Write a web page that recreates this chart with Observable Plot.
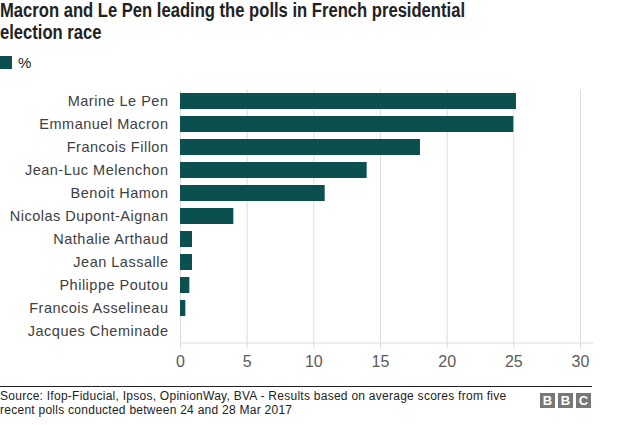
<!DOCTYPE html>
<html>
<head>
<meta charset="utf-8">
<script src="https://cdn.jsdelivr.net/npm/d3@7"></script>
<script src="https://cdn.jsdelivr.net/npm/@observablehq/plot@0.6"></script>
<style>
  html, body { margin: 0; padding: 0; background: #fff; }
  body { width: 624px; height: 425px; position: relative; overflow: hidden; font-family: "Liberation Sans", Arial, sans-serif; }
  #title { position: absolute; left: 0; top: 0; font-weight: bold; font-size: 20px; line-height: 21.5px; color: #222; transform-origin: 0 0; white-space: nowrap; }
  #title span { display: block; }
  #legend { position: absolute; left: 0; top: 56px; height: 13px; font-size: 15px; color: #222; }
  #legend .sw { position: absolute; left: 0; top: 0; width: 12px; height: 13px; background: #0b4f4e; }
  #legend .lb { position: absolute; left: 18px; top: -2px; line-height: 17px; }
  #chart { position: absolute; left: 0; top: 80px; }
  #chart g[aria-label="y-axis tick label"] text { letter-spacing: 0.5px; }
  #rule { position: absolute; left: 0; top: 386px; width: 592px; height: 0; border-top: 1px solid #222; }
  #source { position: absolute; left: 0; top: 390px; font-size: 12px; line-height: 13.5px; color: #222; letter-spacing: 0.26px; }
  #bbc { position: absolute; left: 540px; top: 393px; }
  #bbc div { position: absolute; top: 0; width: 15px; height: 15px; background: #777; color: #fff; font-weight: bold; font-size: 13px; line-height: 15px; text-align: center; }
</style>
</head>
<body>
<div id="title"><span id="t1">Macron and Le Pen leading the polls in French presidential</span><span>election race</span></div>
<div id="legend"><div class="sw"></div><div class="lb">%</div></div>
<div id="chart"></div>
<div id="rule"></div>
<div id="source">Source: Ifop-Fiducial, Ipsos, OpinionWay, BVA - Results based on average scores from five<br>recent polls conducted between 24 and 28 Mar 2017</div>
<div id="bbc"><div style="left:0">B</div><div style="left:18px">B</div><div style="left:36px">C</div></div>
<script>
const candidates = ["Marine Le Pen", "Emmanuel Macron", "Francois Fillon", "Jean-Luc Melenchon", "Benoit Hamon", "Nicolas Dupont-Aignan", "Nathalie Arthaud", "Jean Lassalle", "Philippe Poutou", "Francois Asselineau", "Jacques Cheminade"];
const percent = [25.2, 25.0, 18.0, 14.0, 10.85, 4.0, 0.9, 0.9, 0.7, 0.4, 0];
const xTicks = [0, 5, 10, 15, 20, 25, 30];

const data = candidates.map((name, i) => ({name, value: percent[i]}));

// fit the condensed title
const t1 = document.getElementById("t1");
const w = t1.getBoundingClientRect().width;
document.getElementById("title").style.transform = `scaleX(${465 / w})`;

const chart = Plot.plot({
  width: 624,
  height: 300,
  marginTop: 9.5,
  marginBottom: 37.5,
  marginLeft: 180,
  marginRight: 32,
  style: {fontFamily: "Liberation Sans, Arial, sans-serif", background: "transparent"},
  x: {domain: [0, 30.9], range: [180, 592]},
  y: {domain: candidates, paddingInner: 0.3, paddingOuter: 0.15},
  marks: [
    Plot.gridX(xTicks, {stroke: "#ddd", strokeOpacity: 1}),
    Plot.barX(data, {x: "value", y: "name", fill: "#0b4f4e"}),
    Plot.frame({anchor: "bottom", stroke: "#ddd"}),
    Plot.axisX(xTicks, {tickSize: 6, stroke: "#ddd", tickPadding: 7, fontSize: 16, fill: "#5a5a5a", label: null}),
    Plot.axisY({tickSize: 0, tickPadding: 12, fontSize: 14.5, fill: "#404040", label: null})
  ]
});
document.getElementById("chart").appendChild(chart);
</script>
</body>
</html>
